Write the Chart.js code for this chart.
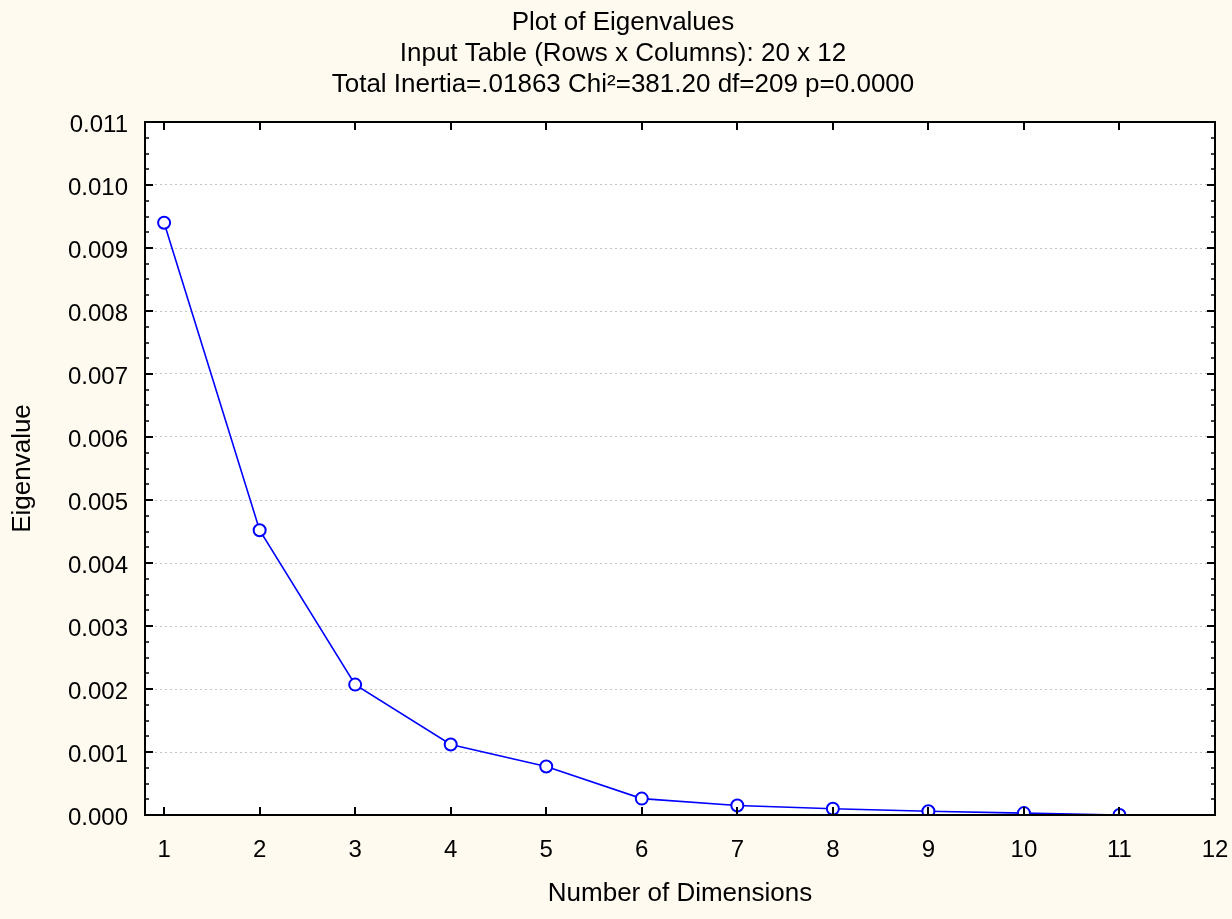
<!DOCTYPE html>
<html>
<head>
<meta charset="utf-8">
<script src="https://cdn.jsdelivr.net/npm/chart.js@4.4.1/dist/chart.umd.min.js"></script>
<style>
  html, body { margin: 0; padding: 0; background: #fffaf0; }
  #wrap { width: 1232px; height: 919px; }
</style>
</head>
<body>
<div id="wrap"><canvas id="eigenChart" width="1232" height="919"></canvas></div>
<script>
// data
const dimensions = [1, 2, 3, 4, 5, 6, 7, 8, 9, 10, 11];
const eigenvalues = [0.00940, 0.00452, 0.00207, 0.00112, 0.00077, 0.00026, 0.00015, 0.00010, 0.00006, 0.00003, 0.00000];
const xTicks = [1, 2, 3, 4, 5, 6, 7, 8, 9, 10, 11, 12];
const yTicks = [0, 0.001, 0.002, 0.003, 0.004, 0.005, 0.006, 0.007, 0.008, 0.009, 0.010, 0.011];
const titleLines = [
  'Plot of Eigenvalues',
  'Input Table (Rows x Columns): 20 x 12',
  'Total Inertia=.01863 Chi\u00b2=381.20 df=209 p=0.0000'
];

const FONT = 'Liberation Sans, Arial, Helvetica, sans-serif';

// white plot area, inward ticks on all four sides, black frame
const frame = {
  id: 'frame',
  afterLayout(chart) {
    // the original title sits a little right of the page centre
    const t = chart.titleBlock;
    t.left = 31;
    t.width = t.right - t.left;
  },
  beforeDraw(chart) {
    const { ctx, chartArea: a } = chart;
    ctx.save();
    ctx.fillStyle = '#ffffff';
    ctx.fillRect(a.left, a.top, a.right - a.left, a.bottom - a.top);
    ctx.restore();
  },
  afterDraw(chart) {
    const { ctx, chartArea: a, scales } = chart;
    const x = scales.x, y = scales.y;
    ctx.save();
    ctx.strokeStyle = '#000';
    ctx.lineWidth = 2;
    ctx.beginPath();
    // x ticks, bottom and top
    xTicks.forEach(v => {
      const px = Math.round(x.getPixelForValue(v));
      ctx.moveTo(px, a.bottom); ctx.lineTo(px, a.bottom - 8);
      ctx.moveTo(px, a.top); ctx.lineTo(px, a.top + 8);
    });
    // y major ticks
    yTicks.forEach(v => {
      const py = Math.round(y.getPixelForValue(v));
      ctx.moveTo(a.left, py); ctx.lineTo(a.left + 8, py);
      ctx.moveTo(a.right, py); ctx.lineTo(a.right - 8, py);
    });
    ctx.stroke();
    // y minor ticks, four per interval
    ctx.lineWidth = 1.5;
    ctx.beginPath();
    for (let i = 0; i < yTicks.length - 1; i++) {
      for (let k = 1; k < 4; k++) {
        const v = yTicks[i] + (yTicks[i + 1] - yTicks[i]) * k / 4;
        const py = Math.round(y.getPixelForValue(v));
        ctx.moveTo(a.left, py); ctx.lineTo(a.left + 4, py);
        ctx.moveTo(a.right, py); ctx.lineTo(a.right - 4, py);
      }
    }
    ctx.stroke();
    ctx.lineWidth = 2;
    ctx.strokeRect(a.left, a.top, a.right - a.left, a.bottom - a.top);
    ctx.restore();
  }
};

new Chart(document.getElementById('eigenChart').getContext('2d'), {
  type: 'line',
  data: {
    datasets: [{
      data: dimensions.map((d, i) => ({ x: d, y: eigenvalues[i] })),
      borderColor: '#0000ff',
      borderWidth: 1.6,
      pointRadius: 6,
      pointHoverRadius: 6,
      pointBorderWidth: 2,
      pointBackgroundColor: '#ffffff',
      pointBorderColor: '#0000ff',
      tension: 0
    }]
  },
  options: {
    responsive: false,
    animation: false,
    layout: { padding: { left: 0, right: 17, top: 0, bottom: 0 } },
    plugins: {
      legend: { display: false },
      tooltip: { enabled: false },
      title: {
        display: true,
        text: titleLines,
        color: '#000',
        font: { family: FONT, size: 26, weight: 'normal', lineHeight: 1.2 },
        padding: { top: 7, bottom: 21.4 }
      }
    },
    scales: {
      x: {
        type: 'linear',
        min: 0.8,
        max: 12,
        afterBuildTicks: s => { s.ticks = xTicks.map(v => ({ value: v })); },
        afterFit: s => { s.height = 104; s.paddingRight = 0; s.paddingLeft = 0; },
        grid: { display: false, drawTicks: false },
        border: { display: false },
        ticks: {
          color: '#000',
          font: { family: FONT, size: 24 },
          padding: 21,
          maxRotation: 0,
          autoSkip: false,
          callback: v => String(v)
        },
        title: {
          display: true,
          text: 'Number of Dimensions',
          color: '#000',
          font: { family: FONT, size: 26 },
          padding: { top: 10, bottom: 10 }
        }
      },
      y: {
        min: 0,
        max: 0.011,
        afterBuildTicks: s => { s.ticks = yTicks.map(v => ({ value: v })); },
        afterFit: s => { s.width = 145; },
        grid: {
          color: '#c4c4c4',
          lineWidth: 1,
          drawTicks: false,
          tickLength: 0
        },
        border: { display: false, dash: [2, 3] },
        ticks: {
          color: '#000',
          font: { family: FONT, size: 24 },
          padding: 17,
          labelOffset: 3,
          autoSkip: false,
          callback: v => v.toFixed(3)
        },
        title: {
          display: true,
          text: 'Eigenvalue',
          color: '#000',
          font: { family: FONT, size: 26 },
          padding: { top: 7, bottom: 8 }
        }
      }
    }
  },
  plugins: [frame]
});
</script>
</body>
</html>
